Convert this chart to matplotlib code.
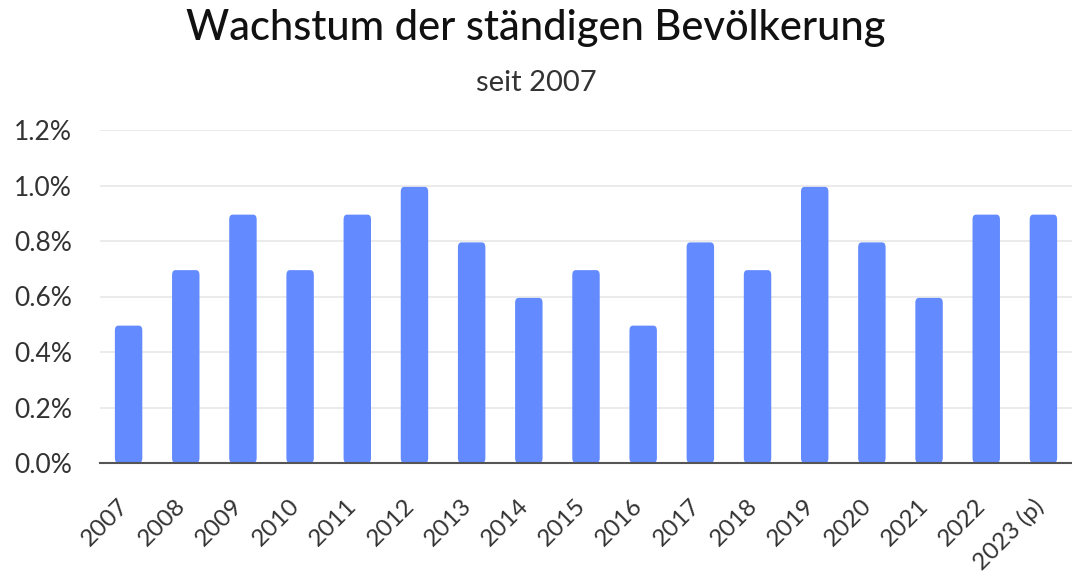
import matplotlib.pyplot as plt
import matplotlib.transforms as mtransforms
from matplotlib.patches import FancyBboxPatch
from matplotlib.ticker import FuncFormatter

plt.rcParams['font.family'] = ['Lato', 'DejaVu Sans']

# ---------------------- Daten ----------------------
years = ["2007", "2008", "2009", "2010", "2011", "2012", "2013", "2014", "2015",
         "2016", "2017", "2018", "2019", "2020", "2021", "2022", "2023 (p)"]
growth = [0.5, 0.7, 0.9, 0.7, 0.9, 1.0, 0.8, 0.6, 0.7,
          0.5, 0.8, 0.7, 1.0, 0.8, 0.6, 0.9, 0.9]

bar_color = "#638bff"
text_color = "#333333"

fig = plt.figure(figsize=(10.72, 5.78), dpi=100)
ax = fig.add_axes([100 / 1072, 1 - 463 / 578, 972 / 1072, 333 / 578])

x = list(range(len(years)))
bars = ax.bar(x, growth, width=0.48, color=bar_color, zorder=3)

# leicht abgerundete Balkenköpfe
for b in bars:
    b.set_visible(False)
    p = FancyBboxPatch((b.get_x(), 0), b.get_width(), b.get_height() - 0.005,
                       boxstyle="round,pad=0,rounding_size=0.06",
                       mutation_aspect=0.3,
                       fc=bar_color, ec="none", zorder=3)
    ax.add_patch(p)

ax.set_xlim(-0.5, 16.5)
ax.set_ylim(0, 1.2)
ax.set_yticks([0, 0.2, 0.4, 0.6, 0.8, 1.0, 1.2])
ax.yaxis.set_major_formatter(FuncFormatter(lambda v, _: f"{v:.1f}%"))
ax.grid(axis='y', color='#e8e8e8', linewidth=1.2, zorder=0)

ax.set_xticks(x)
ax.set_xticklabels(years, rotation=45, ha='right', rotation_mode='anchor')

for s in ['top', 'right', 'left']:
    ax.spines[s].set_visible(False)
ax.spines['bottom'].set_color('#555555')
ax.spines['bottom'].set_linewidth(1.5)
ax.spines['bottom'].set_zorder(4)

ax.tick_params(axis='y', length=0, pad=20, labelsize=19, labelcolor=text_color)
ax.tick_params(axis='x', length=0, pad=23, labelsize=17.5, labelcolor=text_color)

# Beschriftungen etwas nach links schieben
shift = mtransforms.ScaledTranslation(-8 / 72, 0, fig.dpi_scale_trans)
for lbl in ax.get_xticklabels():
    lbl.set_transform(lbl.get_transform() + shift)

fig.text(0.5, 1 - 28 / 578, "Wachstum der ständigen Bevölkerung",
         ha='center', va='center', fontsize=30, color='#111111', fontweight='medium')
fig.text(0.5, 1 - 83 / 578, "seit 2007", ha='center', va='center',
         fontsize=21, color=text_color)

fig.savefig("out.png", dpi=100)
